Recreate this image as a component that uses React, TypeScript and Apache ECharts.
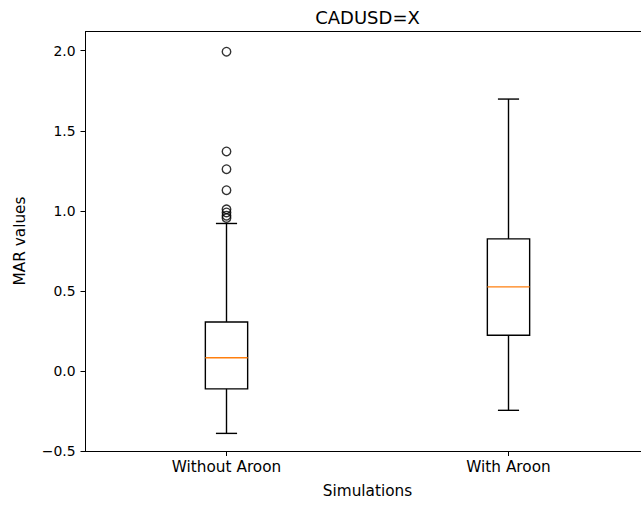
import React, { useEffect, useRef } from "react";
import * as echarts from "echarts";

const categories = ["Without Aroon", "With Aroon"];
// [q1, median, q3, lowerWhisker, upperWhisker]
const boxStats = [
  [-0.112, 0.082, 0.306, -0.39, 0.921],
  [0.223, 0.525, 0.825, -0.246, 1.698],
];
const outliers0 = [1.994, 1.371, 1.26, 1.129, 1.01, 0.99, 0.97, 0.955];
const yTicks = [-0.5, 0, 0.5, 1, 1.5, 2];

const FONT = "DejaVu Sans";
const W = 670;

export default function App() {
  const ref = useRef<HTMLDivElement>(null);
  useEffect(() => {
    document.body.style.margin = "0";
    document.body.style.overflow = "hidden";
    const chart = echarts.init(ref.current!, null, { renderer: "svg" });
    const boxData = boxStats.map((s, i) => [i, ...s]);
    const outlierData = outliers0.map((v) => [0, v]);
    const gl = 85.5;
    const gr = 649.5;
    chart.setOption({
      animation: false,
      backgroundColor: "#ffffff",
      grid: { left: gl, right: W - gr, top: 31.5, bottom: 54, containLabel: false },
      xAxis: {
        type: "category",
        data: categories,
        boundaryGap: true,
        axisLine: { show: true, onZero: false, lineStyle: { color: "#000", width: 1 } },
        axisTick: { show: true, alignWithLabel: true, length: 5, lineStyle: { color: "#000" } },
        axisLabel: { color: "#000", fontFamily: FONT, fontSize: 15.3, margin: 8 },
        splitLine: { show: false },
      },
      yAxis: {
        type: "value",
        min: -0.5,
        max: 2.12,
        axisLine: { show: true, lineStyle: { color: "#000", width: 1 } },
        axisTick: { show: true, length: 5, lineStyle: { color: "#000" }, customValues: yTicks },
        axisLabel: {
          color: "#000",
          fontFamily: FONT,
          fontSize: 13.9,
          margin: 10,
          customValues: yTicks,
          formatter: (v: number) => (v < 0 ? "\u2212" + Math.abs(v).toFixed(1) : v.toFixed(1)),
        },
        splitLine: { show: false },
      },
      graphic: [
        {
          type: "rect",
          shape: { x: gl, y: 31.5, width: gr - gl, height: 420 },
          style: { fill: "none", stroke: "#000", lineWidth: 1 },
          z: 100,
          silent: true,
        },
        {
          type: "text",
          x: (gl + gr) / 2,
          y: 17,
          style: { text: "CADUSD=X", fontFamily: FONT, fontSize: 18, fill: "#000", textAlign: "center", textVerticalAlign: "middle" },
        },
        {
          type: "text",
          x: (gl + gr) / 2,
          y: 491,
          style: { text: "Simulations", fontFamily: FONT, fontSize: 15.3, fill: "#000", textAlign: "center", textVerticalAlign: "middle" },
        },
        {
          type: "text",
          x: 20,
          y: 241,
          rotation: Math.PI / 2,
          style: { text: "MAR values", fontFamily: FONT, fontSize: 15.3, fill: "#000", textAlign: "center", textVerticalAlign: "middle" },
        },
      ],
      series: [
        {
          type: "custom",
          data: boxData,
          encode: { x: 0, y: [1, 2, 3, 4, 5] },
          renderItem: (params: any, api: any) => {
            const xi = api.value(0);
            const q1 = api.coord([xi, api.value(1)]);
            const med = api.coord([xi, api.value(2)]);
            const q3 = api.coord([xi, api.value(3)]);
            const lo = api.coord([xi, api.value(4)]);
            const hi = api.coord([xi, api.value(5)]);
            const band = api.size([1, 0])[0];
            const hw = (band * 0.15) / 2;
            const cw = hw / 2;
            const cx = q1[0];
            const ls = { stroke: "#000", lineWidth: 1.4, fill: "none" };
            return {
              type: "group",
              children: [
                { type: "line", shape: { x1: cx, y1: q3[1], x2: cx, y2: hi[1] }, style: ls },
                { type: "line", shape: { x1: cx, y1: q1[1], x2: cx, y2: lo[1] }, style: ls },
                { type: "line", shape: { x1: cx - cw, y1: hi[1], x2: cx + cw, y2: hi[1] }, style: ls },
                { type: "line", shape: { x1: cx - cw, y1: lo[1], x2: cx + cw, y2: lo[1] }, style: ls },
                { type: "rect", shape: { x: cx - hw, y: q3[1], width: hw * 2, height: q1[1] - q3[1] }, style: ls },
                { type: "line", shape: { x1: cx - hw, y1: med[1], x2: cx + hw, y2: med[1] }, style: { stroke: "#ff7f0e", lineWidth: 1.4 } },
              ],
            };
          },
        },
        {
          type: "scatter",
          data: outlierData,
          symbol: "circle",
          symbolSize: 8.5,
          itemStyle: { color: "rgba(0,0,0,0)", borderColor: "#000", borderWidth: 1.4 },
        },
      ],
    });
    return () => chart.dispose();
  }, []);
  return <div ref={ref} style={{ width: W, height: 505 }} />;
}
